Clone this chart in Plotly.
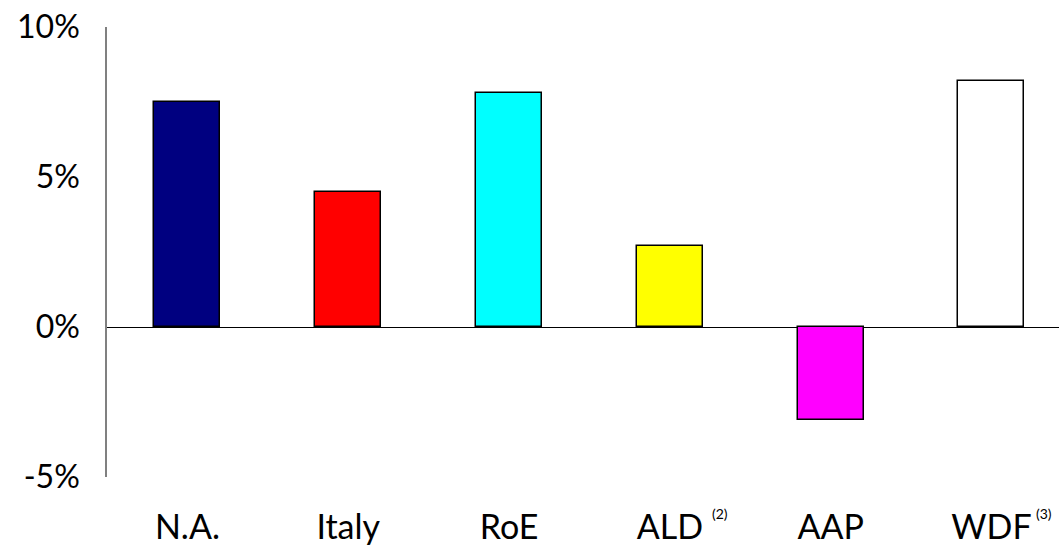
import plotly.graph_objects as go

# Growth by segment (%)
categories = ["N.A.", "Italy", "RoE", "ALD", "AAP", "WDF"]
growth = [7.5, 4.5, 7.8, 2.7, -3.1, 8.2]
bar_colors = ["#000080", "#FF0000", "#00FFFF", "#FFFF00", "#FF00FF", "#FFFFFF"]
footnotes = {"ALD": "(2)", "WDF": "(3)"}

y_ticks = [-5, 0, 5, 10]
y_tick_labels = ["-5%", "0%", "5%", "10%"]

FONT = "Lato, 'Open Sans', sans-serif"

x_pos = list(range(len(categories)))

fig = go.Figure(
    go.Bar(
        x=x_pos,
        y=growth,
        width=0.41,
        marker=dict(color=bar_colors, line=dict(color="#000000", width=1.5)),
        hoverinfo="skip",
    )
)

# Small footnote markers beside selected category labels
for cat, note in footnotes.items():
    i = categories.index(cat)
    fig.add_annotation(
        x=i, y=0, xref="x", yref="paper",
        text=note, showarrow=False,
        font=dict(family=FONT, size=14, color="#000000"),
        xanchor="left", yanchor="middle",
        xshift=40 if cat == "ALD" else 43, yshift=-36,
    )

fig.update_layout(
    width=1059, height=549,
    margin=dict(l=107, r=0, t=27, b=72),
    paper_bgcolor="white", plot_bgcolor="white",
    showlegend=False,
    bargap=0,
    xaxis=dict(
        range=[-0.5, 5.42],
        tickmode="array", tickvals=x_pos, ticktext=categories,
        showgrid=False, zeroline=False, showline=False,
        ticks="", ticklabelstandoff=27, automargin=False,
        tickfont=dict(family=FONT, size=34, color="#000000"),
        fixedrange=True,
    ),
    yaxis=dict(
        range=[-5, 10],
        tickmode="array", tickvals=y_ticks, ticktext=y_tick_labels,
        showgrid=False,
        zeroline=True, zerolinecolor="#000000", zerolinewidth=1,
        showline=True, linecolor="#808080", linewidth=1.5,
        ticks="", ticklabelstandoff=19, automargin=False,
        tickfont=dict(family=FONT, size=32, color="#000000"),
        fixedrange=True,
    ),
)

fig.write_html("out.html")
